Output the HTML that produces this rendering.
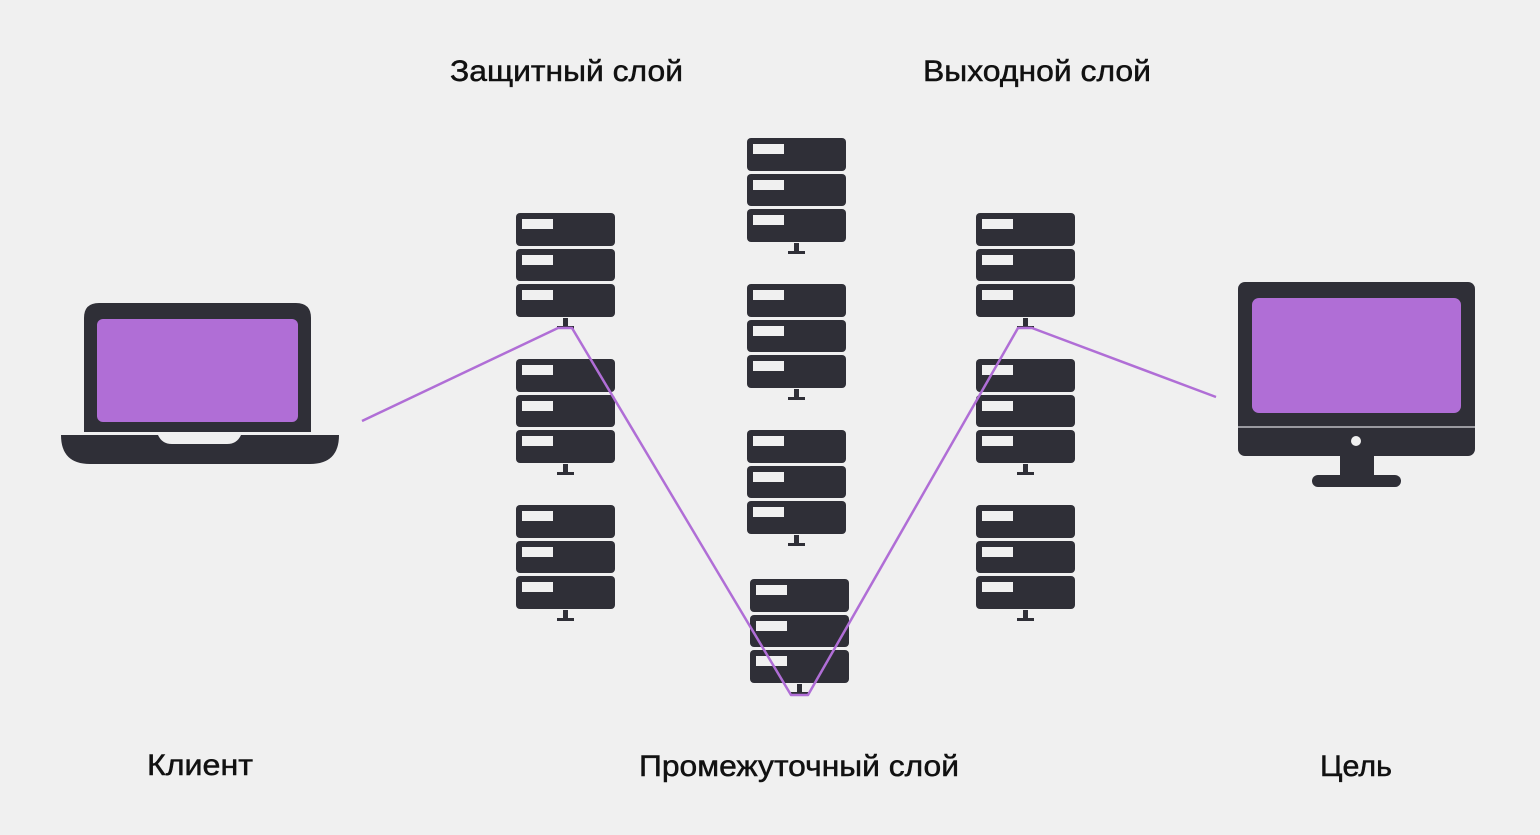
<!DOCTYPE html>
<html><head><meta charset="utf-8"><style>
html,body{margin:0;padding:0;background:#f0f0f0;}
svg{display:block}
text{font-family:"Liberation Sans",sans-serif;font-size:30px;fill:#111;stroke:#111;stroke-width:0.5;}
</style></head><body>
<svg width="1540" height="835" viewBox="0 0 1540 835" xmlns="http://www.w3.org/2000/svg">
<defs>
<g id="srv">
<rect x="0" y="0" width="99" height="33" rx="4" fill="#2f2f37"/>
<rect x="0" y="36" width="99" height="32" rx="4" fill="#2f2f37"/>
<rect x="0" y="71" width="99" height="33" rx="4" fill="#2f2f37"/>
<rect x="6" y="6" width="31" height="10" fill="#f0f0f0"/>
<rect x="6" y="42" width="31" height="10" fill="#f0f0f0"/>
<rect x="6" y="77" width="31" height="10" fill="#f0f0f0"/>
<rect x="47" y="105" width="5" height="9" fill="#2f2f37"/>
<rect x="41" y="113" width="17" height="3" fill="#2f2f37"/>
</g>
</defs>
<rect width="1540" height="835" fill="#f0f0f0"/>
<text x="450" y="81" textLength="233" lengthAdjust="spacingAndGlyphs">Защитный слой</text>
<text x="923" y="81" textLength="228" lengthAdjust="spacingAndGlyphs">Выходной слой</text>
<text x="147" y="775" textLength="106" lengthAdjust="spacingAndGlyphs">Клиент</text>
<text x="639" y="776" textLength="320" lengthAdjust="spacingAndGlyphs">Промежуточный слой</text>
<text x="1320" y="776" textLength="72" lengthAdjust="spacingAndGlyphs">Цель</text>

<use href="#srv" x="516" y="213"/>
<use href="#srv" x="516" y="359"/>
<use href="#srv" x="516" y="505"/>
<use href="#srv" x="747" y="138"/>
<use href="#srv" x="747" y="284"/>
<use href="#srv" x="747" y="430"/>
<use href="#srv" x="750" y="579"/>
<use href="#srv" x="976" y="213"/>
<use href="#srv" x="976" y="359"/>
<use href="#srv" x="976" y="505"/>

<!-- laptop -->
<path d="M84 432 V318 Q84 303 99 303 H296 Q311 303 311 318 V432 Z" fill="#2f2f37"/>
<rect x="97" y="319" width="201" height="103" rx="6" fill="#b06ed6"/>
<path d="M61 435 H158 Q162 444 172 444 H227 Q237 444 241 435 H339 Q339 464 310 464 H90 Q61 464 61 435 Z" fill="#2f2f37"/>

<!-- monitor -->
<rect x="1238" y="282" width="237" height="174" rx="7" fill="#2f2f37"/>
<rect x="1252" y="298" width="209" height="115" rx="7" fill="#b06ed6"/>
<rect x="1238" y="426" width="237" height="2" fill="#9a9aa0"/>
<circle cx="1356" cy="441" r="5" fill="#f0f0f0"/>
<rect x="1340" y="455" width="34" height="22" fill="#2f2f37"/>
<rect x="1312" y="475" width="89" height="12" rx="6" fill="#2f2f37"/>

<polyline points="362,421 558,328 572,328 791,695 808,695 1018,328 1032,328 1216,397" fill="none" stroke="#b06ed6" stroke-width="2.5" stroke-linejoin="round"/>
</svg>
</body></html>
